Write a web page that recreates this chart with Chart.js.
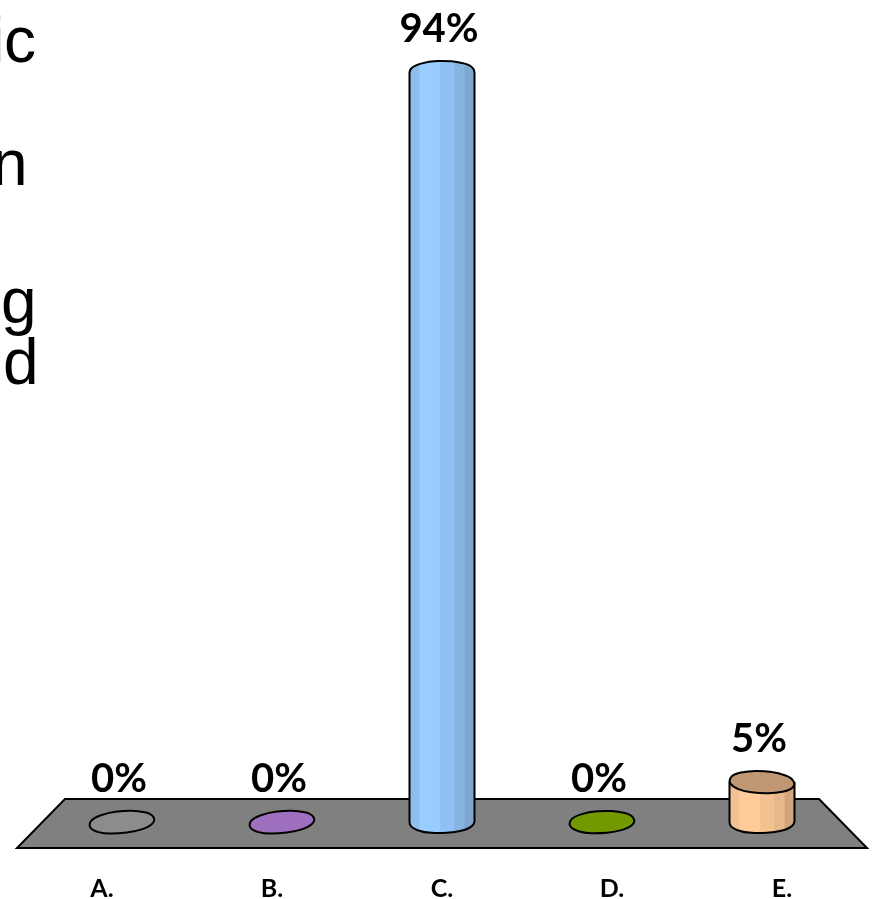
<!DOCTYPE html>
<html>
<head>
<meta charset="utf-8">
<title>Responses</title>
<style>
    html, body { margin: 0; padding: 0; background: #fff; overflow: hidden; }
    #wrap { position: relative; width: 874px; height: 899px; overflow: hidden; }
    canvas { position: absolute; left: 0; top: 0; }
    .frag {
        position: absolute;
        font-family: "Liberation Sans", Arial, sans-serif;
        font-size: 64px;
        line-height: 76px;
        color: #000;
        white-space: nowrap;
    }
</style>
</head>
<body>
<div id="wrap">
    <canvas id="chart" width="874" height="899"></canvas>
    <span class="frag" style="left:-9px;top:2px;color:#ddd">i</span>
    <span class="frag" style="left:4px;top:2px">c</span>
    <span class="frag" style="left:-8px;top:125px">n</span>
    <span class="frag" style="left:1px;top:263px">g</span>
    <span class="frag" style="left:3px;top:324px">d</span>
</div>
<script src="https://cdn.jsdelivr.net/npm/chart.js@4/dist/chart.umd.min.js"></script>
<script>
const categories = ['A.', 'B.', 'C.', 'D.', 'E.'];
const percentages = [0, 0, 94, 0, 5];

const sideShades = [
    ['#8c8c8c', '#a0a0a0', '#8c8c8c', '#828282', '#7a7a7a'],
    ['#9e70bd', '#a67cc4', '#9568b3', '#8c63a8', '#8560a0'],
    ['#8fbdeb', '#99ccff', '#90c1f2', '#86b3e0', '#7ea6cf'],
    ['#739900', '#7da600', '#6c9000', '#658800', '#5f8000'],
    ['#f2c193', '#ffcc99', '#f3c291', '#e6b88a', '#d2a57e']
];
const capColors = ['#8c8c8c', '#9e70bd', '#8fbdeb', '#739900', '#bf9873'];
const capTilt = [0.22, 0.22, 0, 0.1, -0.2];

const BAR_WIDTH = 65;
const CAP_RY = 10;
// the axis letters sit a little wider apart than the columns
const LABEL_SPREAD = 1.0625;

// wobbly outline of a cylinder cap, in units of its half width / half height
const capOutline = [
    [-1.03, 0.1], [-0.9, -0.6], [-0.4, -1.05], [0.1, -1.12], [0.5, -1.0], [0.9, -0.65],
    [1.03, 0.05], [0.85, 0.65], [0.4, 1.05], [-0.1, 1.12], [-0.55, 1.05], [-0.9, 0.65]
];

function traceCap(ctx, cx, cy, rx, ry, tilt) {
    const pts = capOutline.map(p => [cx + p[0] * rx, cy + (p[1] - p[0] * tilt) * ry]);
    const last = pts[pts.length - 1];
    ctx.moveTo((last[0] + pts[0][0]) / 2, (last[1] + pts[0][1]) / 2);
    pts.forEach((p, i) => {
        const next = pts[(i + 1) % pts.length];
        ctx.quadraticCurveTo(p[0], p[1], (p[0] + next[0]) / 2, (p[1] + next[1]) / 2);
    });
    ctx.closePath();
}

// vertical facets across the cylinder wall
function sideFill(context) {
    const { chart, dataIndex } = context;
    const x = chart.scales.x ? chart.scales.x.getPixelForValue(dataIndex) : NaN;
    if (!Number.isFinite(x)) return capColors[dataIndex];
    const g = chart.ctx.createLinearGradient(x - BAR_WIDTH / 2, 0, x + BAR_WIDTH / 2, 0);
    const s = sideShades[dataIndex];
    [[0, 0], [0.14, 0], [0.16, 1], [0.46, 1], [0.48, 2], [0.68, 2], [0.7, 3], [0.84, 3], [0.86, 4], [1, 4]]
        .forEach(([at, shade]) => g.addColorStop(at, s[shade]));
    return g;
}

// grey floor under the columns
const floorPlugin = {
    id: 'floor',
    beforeDatasetsDraw(chart) {
        const { ctx, chartArea: a } = chart;
        ctx.save();
        ctx.beginPath();
        ctx.moveTo(a.left + 23, a.bottom - 23);
        ctx.lineTo(a.right - 23, a.bottom - 23);
        ctx.lineTo(a.right + 25, a.bottom + 26);
        ctx.lineTo(a.left - 25, a.bottom + 26);
        ctx.closePath();
        ctx.fillStyle = '#808080';
        ctx.fill();
        ctx.strokeStyle = '#000';
        ctx.lineWidth = 2;
        ctx.stroke();
        ctx.restore();
    }
};

// rounds the flat bars into cylinders and writes the value above each one
const cylinderPlugin = {
    id: 'cylinder',
    afterDatasetsDraw(chart) {
        const ctx = chart.ctx;
        const meta = chart.getDatasetMeta(0);
        meta.data.forEach((bar, i) => {
            const rx = BAR_WIDTH / 2;
            const left = bar.x - rx;
            const right = bar.x + rx;
            const hasBody = percentages[i] > 0;
            const tall = percentages[i] > 50;
            ctx.save();
            ctx.lineWidth = 2;
            ctx.strokeStyle = '#000';
            ctx.lineJoin = 'round';
            if (hasBody) {
                // lower half of the column, clipped below the base line
                ctx.save();
                ctx.beginPath();
                ctx.rect(left - 2, bar.base, BAR_WIDTH + 4, CAP_RY + 4);
                ctx.clip();
                ctx.beginPath();
                traceCap(ctx, bar.x, bar.base, rx, CAP_RY, 0);
                ctx.fillStyle = sideFill({ chart, dataIndex: i });
                ctx.fill();
                ctx.stroke();
                ctx.restore();
                ctx.beginPath();
                ctx.moveTo(left, bar.y);
                ctx.lineTo(left, bar.base);
                ctx.moveTo(right, bar.y);
                ctx.lineTo(right, bar.base);
                ctx.stroke();
            }
            ctx.save();
            if (tall) {
                // the tall column blends into its top, only the upper edge shows
                ctx.beginPath();
                ctx.rect(left - 2, bar.y - CAP_RY - 4, BAR_WIDTH + 4, CAP_RY + 4);
                ctx.clip();
            }
            ctx.beginPath();
            traceCap(ctx, bar.x, bar.y, rx, CAP_RY, capTilt[i]);
            ctx.fillStyle = tall ? sideFill({ chart, dataIndex: i }) : capColors[i];
            ctx.fill();
            ctx.stroke();
            ctx.restore();
            ctx.restore();

            ctx.save();
            ctx.font = 'bold 40px Lato, "Open Sans", sans-serif';
            ctx.fillStyle = '#000';
            ctx.textAlign = 'center';
            ctx.textBaseline = 'alphabetic';
            ctx.fillText(percentages[i] + '%', bar.x - 3, bar.y - CAP_RY - 20);
            ctx.restore();
        });
    }
};

// category letters below the floor, placed from the x scale
const letterPlugin = {
    id: 'letters',
    afterDraw(chart) {
        const { ctx, chartArea: a, scales } = chart;
        const mid = scales.x.getPixelForValue(2);
        ctx.save();
        ctx.font = 'bold 25px Lato, "Open Sans", sans-serif';
        ctx.fillStyle = '#000';
        ctx.textAlign = 'center';
        ctx.textBaseline = 'alphabetic';
        categories.forEach((label, i) => {
            const x = mid + (scales.x.getPixelForValue(i) - mid) * LABEL_SPREAD;
            ctx.fillText(label, x, a.bottom + 75);
        });
        ctx.restore();
    }
};

new Chart(document.getElementById('chart').getContext('2d'), {
    type: 'bar',
    data: {
        labels: categories,
        datasets: [{
            data: percentages,
            backgroundColor: sideFill,
            borderWidth: 0,
            barThickness: BAR_WIDTH
        }]
    },
    options: {
        responsive: false,
        animation: false,
        layout: { padding: { left: 42, right: 32, top: 24, bottom: 0 } },
        plugins: { legend: { display: false }, tooltip: { enabled: false } },
        scales: {
            y: { min: 0, max: 100, display: false },
            x: {
                afterFit(scale) { scale.height = 77; },
                grid: { display: false },
                border: { display: false },
                ticks: { display: false }
            }
        }
    },
    plugins: [floorPlugin, cylinderPlugin, letterPlugin]
});
</script>
</body>
</html>
